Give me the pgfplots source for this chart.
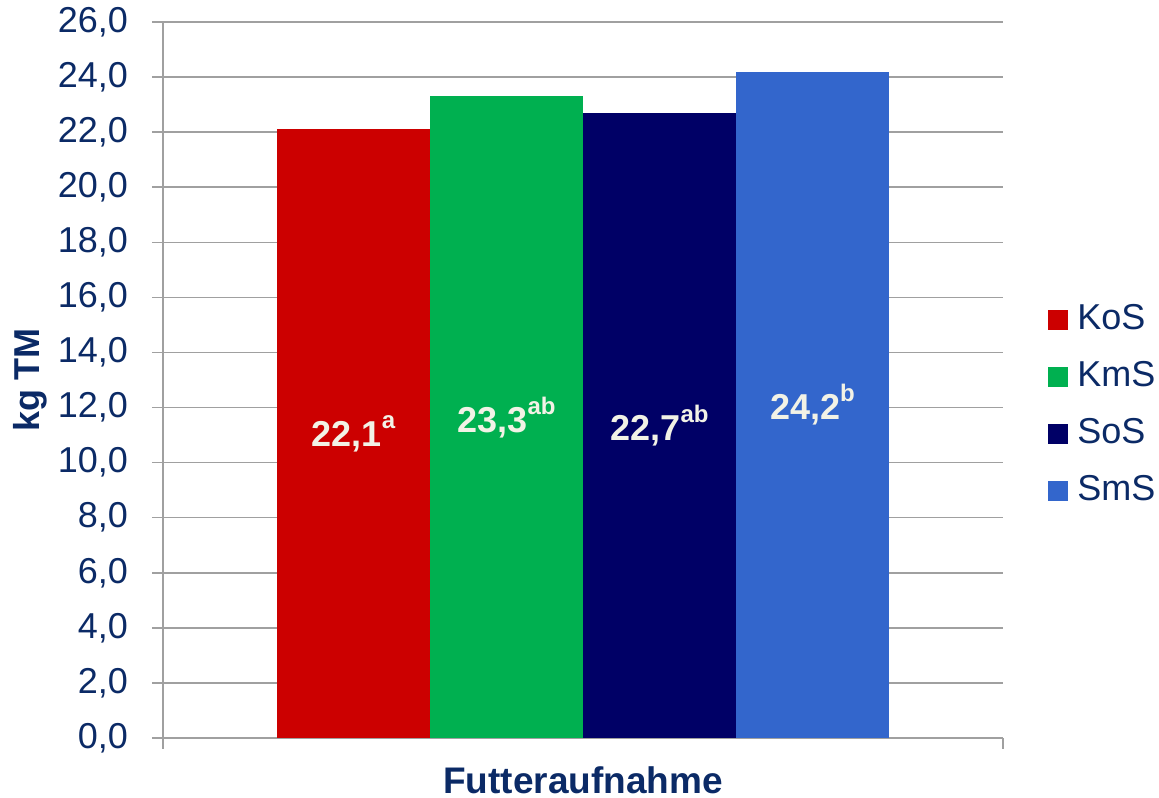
\documentclass[border=0pt]{standalone}
\usepackage{pgfplots}
\pgfplotsset{compat=1.18}
\usepackage{fontspec}
\setmainfont{Liberation Sans}

\definecolor{navytext}{HTML}{0B2A66}
\definecolor{cKoS}{HTML}{CC0000}
\definecolor{cKmS}{HTML}{00B050}
\definecolor{cSoS}{HTML}{000066}
\definecolor{cSmS}{HTML}{3366CC}
\definecolor{gridgray}{HTML}{A0A0A0}
\definecolor{lbl}{HTML}{F2F2E6}

\newcommand\sig[1]{\raisebox{0.5em}{\fontsize{12}{14}\selectfont #1}}

\begin{document}
\begin{tikzpicture}
\begin{axis}[
  name=ax,
  scale only axis,
  width=420pt, height=358pt,
  xmin=-1.245, xmax=4.245,
  ymin=0, ymax=26,
  ytick={0,2,...,26},
  xtick={-1.245,4.245}, xticklabels={},
  axis x line*=bottom, axis y line*=left,
  axis line style={gridgray, line width=0.8pt, -},
  tick align=outside,
  major tick length=5.5pt,
  tick style={gridgray, line width=0.8pt},
  ymajorgrids,
  grid style={gridgray, line width=0.8pt},
  yticklabel style={xshift=-8.5pt, /pgf/number format/.cd, fixed, fixed zerofill, precision=1, use comma, assume math mode=true},
  ticklabel style={font=\fontsize{18}{20}\selectfont, text=navytext},
  ylabel={kg TM},
  ylabel style={at={(axis description cs:-0.158,0.5)}, anchor=center, font=\bfseries\fontsize{18}{20}\selectfont, text=navytext},
  xlabel={Futteraufnahme},
  xlabel style={at={(axis description cs:0.5,-0.0587)}, anchor=center, font=\bfseries\fontsize{18.5}{20}\selectfont, text=navytext},
  legend image code/.code={\fill[#1] (0pt,-5pt) rectangle (10pt,5pt); \path (14.5pt,0pt);},
  legend cell align=left,
  legend style={at={(axis description cs:1.0536,0.4637)}, anchor=west, draw=none, fill=none,
    inner sep=0pt, row sep=11.5pt,
    font=\fontsize{18}{20}\selectfont, text=navytext,
    nodes={inner sep=0pt, text height=13pt, text depth=4pt}},
]
\addplot[ybar, bar width=1, bar shift=0pt, fill=cKoS, draw=none] coordinates {(0,22.1)};
\addplot[ybar, bar width=1, bar shift=0pt, fill=cKmS, draw=none] coordinates {(1,23.3)};
\addplot[ybar, bar width=1, bar shift=0pt, fill=cSoS, draw=none] coordinates {(2,22.7)};
\addplot[ybar, bar width=1, bar shift=0pt, fill=cSmS, draw=none] coordinates {(3,24.2)};
\legend{KoS,KmS,SoS,SmS}

% value labels, set at half the height of each bar
\begin{scope}[every node/.style={font=\bfseries\fontsize{18}{20}\selectfont, text=lbl, anchor=center}]
\node at (axis cs:0,11.05) {22,1\sig{a}};
\node at (axis cs:1,11.65) {23,3\sig{ab}};
\node at (axis cs:2,11.35) {22,7\sig{ab}};
\node at (axis cs:3,12.10) {24,2\sig{b}};
\end{scope}
\end{axis}
\pgfresetboundingbox
\path[use as bounding box] ([shift={(-81.5pt,-30pt)}]ax.south west) rectangle ([shift={(78pt,11pt)}]ax.north east);
\end{tikzpicture}
\end{document}
